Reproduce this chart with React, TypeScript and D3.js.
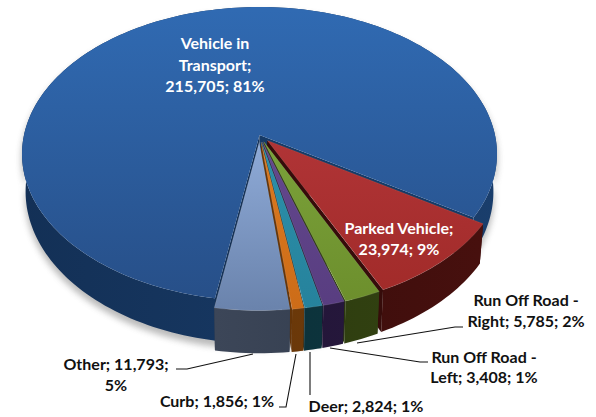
import React from "react";
import * as d3 from "d3";

const width = 596;
const height = 417;

// data, clockwise from the left edge of the big slice
const categories = ["Vehicle in Transport", "Parked Vehicle", "Run Off Road - Right", "Run Off Road - Left", "Deer", "Curb", "Other"];
const counts = [215705, 23974, 5785, 3408, 2824, 1856, 11793];
const percents = [81, 9, 2, 1, 1, 1, 5];

const topColors = [
  ["#306aB2", "#274f88"],
  ["#b03436", "#a02a28"],
  ["#7ba23a", "#6c8e2c"],
  ["#64488e", "#583d80"],
  ["#2c90aa", "#26829c"],
  ["#dc7a20", "#cc6c18"],
  ["#8fabd8", "#6a83ac"],
];
const sideColors = [
  ["#1a3e6c", "#133056"],
  ["#47100e", "#360c0a"],
  ["#344512", "#2b380e"],
  ["#2a1a42", "#201434"],
  ["#0e3a42", "#0b2f38"],
  ["#7a420c", "#643408"],
  ["#3c4658", "#2e3848"],
];

// label text split the way it wraps in the chart
const labelLines = [
  ["Vehicle in", "Transport;", "215,705; 81%"],
  ["Parked Vehicle;", "23,974; 9%"],
  ["Run Off Road -", "Right; 5,785; 2%"],
  ["Run Off Road -", "Left; 3,408; 1%"],
  ["Deer; 2,824; 1%"],
  ["Curb; 1,856; 1%"],
  ["Other; 11,793;", "5%"],
];
const labelX = [215, 399, 526, 484, 366, 217, 116];
const labelY = [49, 234, 306, 363, 412, 407, 370];
const lineGap = [21.5, 21, 21, 20, 0, 0, 21];
const labelFill = ["#fff", "#fff", "#111", "#111", "#111", "#111", "#111"];

const leaders = [
  [[463, 327], [455, 327], [357, 343]],
  [[428, 362], [420, 362], [330, 348]],
  [[310, 395], [310, 352]],
  [[279, 407], [286, 407], [296, 354]],
  [[176, 369], [187, 369], [253, 354]],
];

// tilted disc with a little perspective
const cx = 259.5;
const cy = 135;
const rx = 235.5;
const ry = 144.5;
const persp = 0.129;
const depth = 37;
const explode = [0, 0.05, 0.05, 0.05, 0.05, 0.05, 0.05];

const project = (u: number, v: number, z: number): [number, number] => {
  const s = 1 / (1 - persp * v);
  return [cx + rx * u * s * (1 - 0.015 * z), cy + ry * v * s + depth * z * s];
};

const pie = d3
  .pie<number>()
  .sort(null)
  .startAngle((189.5 * Math.PI) / 180)
  .endAngle((189.5 * Math.PI) / 180 + 2 * Math.PI);

const line = d3.line();

function slicePaths(a0: number, a1: number, e: number) {
  const mid = (a0 + a1) / 2;
  const ox = e * Math.sin(mid);
  const oy = -e * Math.cos(mid);
  const n = Math.max(4, Math.ceil((a1 - a0) * 40));
  const angles = d3.range(n + 1).map((i) => a0 + ((a1 - a0) * i) / n);
  const rim = (a: number, z: number) => project(Math.sin(a) + ox, -Math.cos(a) + oy, z);
  const apex = (z: number) => project(ox, oy, z);

  const top = line([apex(0), ...angles.map((a) => rim(a, 0))]) + "Z";
  const wall = line([...angles.map((a) => rim(a, 0)), ...angles.slice().reverse().map((a) => rim(a, 1))]) + "Z";
  const face = (a: number) => line([apex(0), rim(a, 0), rim(a, 1), apex(1)]) + "Z";
  return { top, wall, startFace: face(a0), endFace: face(a1) };
}

export default function App() {
  const arcs = pie(counts);
  const slices = arcs.map((d, i) => slicePaths(d.startAngle, d.endAngle, explode[i]));
  const shadow = slicePaths(0, 2 * Math.PI, 0.02);

  return (
    <svg
      width={width}
      height={height}
      viewBox={`0 0 ${width} ${height}`}
      style={{ position: "absolute", left: 0, top: 0, background: "#fff" }}
      fontFamily="Lato, 'Open Sans', sans-serif"
      fontWeight={700}
      fontSize={16}
    >
      <defs>
        <filter id="soft" x="-10%" y="-10%" width="120%" height="120%">
          <feGaussianBlur stdDeviation="3" />
        </filter>
        {topColors.map((c, i) => (
          <linearGradient key={i} id={`top${i}`} gradientUnits="userSpaceOnUse" x1="0" y1={i === 0 ? 10 : 140} x2="0" y2={i === 0 ? 300 : 310}>
            <stop offset="0" stopColor={c[0]} />
            <stop offset="1" stopColor={c[1]} />
          </linearGradient>
        ))}
        {sideColors.map((c, i) => (
          <linearGradient key={i} id={`side${i}`} gradientUnits="userSpaceOnUse" x1={i === 0 ? 20 : 215} y1="0" x2={i === 0 ? 500 : 480} y2="0">
            <stop offset="0" stopColor={c[i === 6 ? 0 : 1]} />
            <stop offset="1" stopColor={c[i === 6 ? 1 : 0]} />
          </linearGradient>
        ))}
      </defs>

      <path d={shadow.wall} fill="#555" opacity={0.4} filter="url(#soft)" transform="translate(0,2)" />

      {slices.map((s, i) => (
        <g key={categories[i]}>
          <path d={s.endFace} fill={i === 0 ? "#163a66" : sideColors[i][1]} />
          <path d={s.startFace} fill={sideColors[i][1]} />
          <path d={s.wall} fill={`url(#side${i})`} />
          <path d={s.top} fill={`url(#top${i})`} stroke={i === 0 ? "none" : "#ffffff"} strokeOpacity={0.18} strokeWidth={0.6} />
        </g>
      ))}

      <g fill="none" stroke="#111" strokeWidth={1.1}>
        {leaders.map((pts, i) => (
          <path key={i} d={line(pts as [number, number][]) ?? ""} />
        ))}
      </g>

      <g textAnchor="middle">
        {labelLines.map((rows, i) => (
          <text key={i} x={labelX[i]} y={labelY[i]} fill={labelFill[i]}>
            {rows.map((r, j) => (
              <tspan key={j} x={labelX[i]} y={labelY[i] + j * lineGap[i]}>
                {r}
              </tspan>
            ))}
          </text>
        ))}
      </g>
    </svg>
  );
}
